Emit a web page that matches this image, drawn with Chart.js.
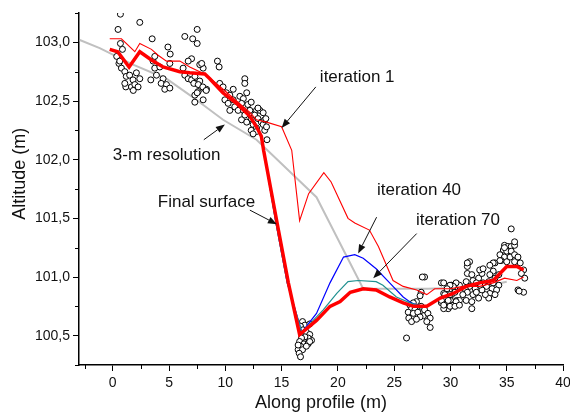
<!DOCTYPE html>
<html>
<head>
<meta charset="utf-8">
<title>Profile</title>
<script src="https://cdn.jsdelivr.net/npm/chart.js@4/dist/chart.umd.min.js"></script>
<style>
  html, body { margin: 0; padding: 0; background: #fff; }
  canvas { display: block; }
</style>
</head>
<body>
<canvas id="profileChart" width="570" height="413"></canvas>
<script>
// -----------------------------------------
// Daten
// -----------------------------------------
const xTicks = [0, 5, 10, 15, 20, 25, 30, 35, 40];
const xMinorTicks = [-2.5, 2.5, 7.5, 12.5, 17.5, 22.5, 27.5, 32.5, 37.5];
const yTicks = [100.5, 101.0, 101.5, 102.0, 102.5, 103.0];
const yMinorTicks = [100.25, 100.75, 101.25, 101.75, 102.25, 102.75, 103.25];

// Messpunkte [Abstand, Hoehe]
const measured = [
    [0.68, 103.24], [0.47, 103.11], [2.4, 103.17], [3.5, 103.03], [4.9, 102.96], [5.1, 102.90],
    [6.4, 103.05], [7.1, 103.03], [7.5, 103.11], [7.5, 102.99],
    [0.68, 102.99], [0.86, 102.94], [0.35, 102.88], [0.55, 102.82], [0.62, 102.84], [0.77, 102.78],
    [1.07, 102.75], [1.2, 102.71], [1.5, 102.72], [1.8, 102.68], [1.16, 102.62], [1.66, 102.62],
    [1.96, 102.64], [2.1, 102.74], [2.4, 102.69], [1.07, 102.65], [1.82, 102.59], [2.25, 102.62],
    [3.58, 102.84], [3.73, 102.78], [4.18, 102.79], [3.88, 102.72], [4.47, 102.69], [4.3, 102.65],
    [4.77, 102.64], [4.62, 102.60], [5.07, 102.61], [3.38, 102.68], [3.73, 102.88], [5.07, 102.82],
    [6.25, 102.78], [6.4, 102.72], [6.7, 102.69], [7.0, 102.68], [7.3, 102.71], [7.44, 102.65],
    [7.73, 102.67], [7.88, 102.61], [7.58, 102.58], [8.03, 102.78], [7.73, 102.81], [7.0, 102.86],
    [6.7, 102.84], [8.03, 102.51], [8.33, 102.60], [9.3, 102.84], [9.45, 102.79], [7.29, 102.55],
    [7.29, 102.49], [7.9, 102.82], [7.2, 102.65], [7.6, 102.64], [8.0, 102.62], [8.3, 102.59],
    [7.5, 102.57],
    [11.73, 102.69], [11.73, 102.65], [9.5, 102.65], [9.8, 102.62], [10.1, 102.57], [10.4, 102.55],
    [9.96, 102.51], [10.25, 102.48], [10.7, 102.51], [10.84, 102.45], [10.4, 102.42], [11.29, 102.54],
    [11.6, 102.52], [11.9, 102.57], [11.44, 102.48], [11.14, 102.42], [11.6, 102.42], [12.0, 102.47],
    [12.18, 102.42], [11.73, 102.38], [11.44, 102.34], [11.9, 102.32], [12.3, 102.35], [12.77, 102.42],
    [13.07, 102.42], [12.6, 102.38], [12.9, 102.35], [13.2, 102.32], [13.36, 102.30], [12.47, 102.30],
    [12.77, 102.27], [12.3, 102.25], [13.5, 102.25], [13.66, 102.28], [13.7, 102.17], [12.3, 102.49],
    [10.7, 102.60], [12.9, 102.44], [13.36, 102.40], [13.5, 102.34], [12.77, 102.24], [12.47, 102.22],
    [13.6, 102.35],
    [16.86, 100.62], [17.07, 100.59], [16.68, 100.58], [16.9, 100.55], [17.2, 100.53], [17.5, 100.51],
    [17.66, 100.46], [17.36, 100.48], [17.07, 100.49], [16.77, 100.48], [16.6, 100.45], [16.98, 100.43],
    [17.36, 100.43], [16.68, 100.41], [16.47, 100.38], [16.86, 100.38], [16.56, 100.35], [16.68, 100.32],
    [16.47, 100.42], [17.5, 100.45], [17.2, 100.41], [17.5, 100.60],
    [27.7, 101.0], [27.5, 101.0], [29.2, 100.95], [27.4, 100.87], [27.3, 100.84], [26.98, 100.79],
    [26.7, 100.78], [26.4, 100.76], [26.55, 100.73], [26.84, 100.72], [26.25, 100.70], [26.7, 100.69],
    [27.1, 100.70], [27.4, 100.75], [27.7, 100.72], [27.6, 100.67], [27.3, 100.66], [28.0, 100.69],
    [28.2, 100.65], [27.9, 100.62], [26.3, 100.65], [26.55, 100.62], [28.2, 100.57], [26.1, 100.48],
    [26.98, 100.64],
    [29.4, 100.86], [29.5, 100.82], [29.2, 100.78], [29.7, 100.78], [30.0, 100.80], [30.1, 100.85],
    [30.25, 100.76], [30.55, 100.80], [29.8, 100.73], [29.4, 100.73], [30.4, 100.89], [30.1, 100.93],
    [35.4, 101.41], [34.8, 101.27], [35.1, 101.26], [35.4, 101.26], [35.7, 101.27], [34.7, 101.23],
    [35.0, 101.22], [35.4, 101.22], [34.4, 101.19], [34.8, 101.17], [35.3, 101.17], [35.7, 101.19],
    [36.0, 101.17], [34.5, 101.14], [35.0, 101.13], [35.7, 101.13], [36.2, 101.12], [33.96, 101.12],
    [36.5, 101.06], [36.3, 101.03], [36.6, 100.99], [36.0, 100.89], [36.5, 100.87], [33.8, 101.05],
    [33.5, 101.02], [33.96, 100.99], [34.3, 101.02], [33.4, 100.96], [33.8, 100.95], [34.3, 100.93],
    [33.2, 100.92], [33.7, 100.90], [34.1, 100.89], [33.5, 100.86], [33.96, 100.85], [33.4, 100.82],
    [33.1, 100.85], [32.8, 100.89], [32.9, 100.95], [32.6, 100.93], [32.5, 100.99], [32.8, 101.03],
    [32.6, 101.06], [32.9, 101.07], [31.7, 101.13], [31.5, 101.09], [31.5, 101.03], [31.9, 101.02],
    [32.0, 100.97], [32.3, 100.95], [31.4, 100.96], [31.7, 100.92], [32.2, 100.90], [31.3, 100.90],
    [31.5, 100.87], [32.0, 100.85], [31.1, 100.85], [31.4, 100.80], [31.9, 100.79], [30.8, 100.80],
    [31.9, 100.73], [30.8, 100.93], [30.5, 100.95], [30.25, 100.92], [29.96, 100.93], [29.4, 100.95],
    [29.7, 100.90], [30.4, 100.87], [29.96, 100.85], [29.5, 100.85], [29.2, 100.80], [29.4, 100.76],
    [29.8, 100.80], [29.96, 100.75], [30.5, 100.79], [30.4, 100.75], [30.8, 100.76], [32.3, 100.87],
    [32.5, 100.82], [33.8, 101.12], [33.5, 101.10], [31.5, 101.12], [34.8, 101.25], [35.7, 101.30],
    [36.1, 100.88], [34.4, 101.14]
];

// 3-m Aufloesung (grau)
const coarse = [
    [-2.93, 103.02], [-1.16, 102.95], [1.8, 102.81], [4.77, 102.69], [7.0, 102.54], [9.8, 102.34],
    [12.77, 102.17], [18.1, 101.68], [22.25, 100.90], [28.0, 100.90], [33.0, 100.92], [35.0, 100.96]
];

// Iteration 1 (duenn rot)
const iter1 = [
    [-0.27, 103.03], [0.77, 103.03], [1.96, 102.92], [2.4, 102.99], [3.44, 102.94], [4.03, 102.89],
    [4.77, 102.84], [5.96, 102.84], [6.84, 102.79], [7.73, 102.75], [8.47, 102.71], [9.8, 102.60],
    [11.0, 102.50], [12.2, 102.40], [12.77, 102.34], [13.66, 102.32], [15.0, 102.28], [15.9, 102.08],
    [16.6, 101.48], [17.4, 101.71], [18.75, 101.89], [19.4, 101.81], [20.9, 101.50], [21.5, 101.46],
    [22.8, 101.40], [23.6, 101.26], [24.9, 100.97], [25.8, 100.92], [27.0, 100.89], [27.9, 100.85],
    [28.6, 100.90], [30.0, 100.90], [31.1, 100.92], [32.6, 100.92], [33.8, 100.95], [34.8, 100.99],
    [35.9, 100.97], [36.5, 101.0]
];

// Iteration 40 (blau)
const iter40 = [
    [8.62, 102.69], [9.78, 102.57], [11.0, 102.48], [12.18, 102.37], [12.77, 102.28], [13.2, 102.20],
    [13.4, 102.08], [14.5, 101.46], [15.5, 100.95], [16.8, 100.53], [18.1, 100.69], [19.3, 100.95],
    [20.5, 101.17], [21.5, 101.19], [22.25, 101.16], [23.4, 101.07], [24.6, 100.95], [25.8, 100.83],
    [26.5, 100.78], [27.4, 100.75]
];

// Iteration 70 (tuerkis)
const iter70 = [
    [8.62, 102.69], [9.78, 102.57], [11.0, 102.48], [12.18, 102.37], [12.77, 102.28], [13.2, 102.20],
    [13.4, 102.08], [14.5, 101.46], [15.5, 100.95], [16.8, 100.53], [18.7, 100.72], [19.9, 100.86],
    [20.9, 100.96], [21.8, 100.97], [23.4, 100.96], [24.0, 100.93], [25.2, 100.83], [26.4, 100.78],
    [27.4, 100.75]
];

// Endgueltige Oberflaeche (dick rot)
const finalSurface = [
    [-0.27, 102.94], [0.44, 102.92], [1.45, 102.79], [2.4, 102.92], [3.44, 102.85], [4.47, 102.79],
    [5.96, 102.75], [6.84, 102.74], [8.18, 102.73], [8.62, 102.69], [9.78, 102.57], [11.0, 102.48],
    [12.18, 102.37], [12.77, 102.28], [13.2, 102.20], [13.4, 102.08], [14.6, 101.46], [15.6, 100.95],
    [16.6, 100.51], [18.1, 100.63], [19.3, 100.75], [20.2, 100.79], [21.1, 100.87], [22.25, 100.90],
    [23.4, 100.89], [24.6, 100.83], [25.8, 100.78], [26.7, 100.75], [27.9, 100.75], [29.1, 100.82],
    [30.25, 100.86], [31.4, 100.92], [32.6, 100.95], [33.8, 100.97], [35.0, 101.09], [35.9, 101.09],
    [36.5, 101.06]
];

// Beschriftungen mit Pfeil (Datenkoordinaten)
const notes = [
    { text: "iteration 1", at: [18.4, 102.70], from: [18.04, 102.62], to: [15.0, 102.27] },
    { text: "3-m resolution", at: [0.0, 102.04], from: [8.09, 102.17], to: [9.96, 102.30] },
    { text: "Final surface", at: [4.0, 101.64], from: [12.18, 101.57], to: [14.58, 101.45] },
    { text: "iteration 40", at: [23.47, 101.74], from: [23.44, 101.51], to: [21.8, 101.20] },
    { text: "iteration 70", at: [26.93, 101.48], from: [27.0, 101.37], to: [23.14, 100.99] }
];

const FONT = "'Liberation Sans', Arial, sans-serif";

function toXY(pairs) {
    return pairs.map(p => ({ x: p[0], y: p[1] }));
}

function lineSet(label, pairs, color, width, order) {
    return {
        label: label,
        data: toXY(pairs),
        showLine: true,
        borderColor: color,
        backgroundColor: color,
        borderWidth: width,
        pointRadius: 0,
        tension: 0,
        order: order
    };
}


// -----------------------------------------
// Plugins: Nebenstriche, Titel, Pfeile
// -----------------------------------------
const minorTicksPlugin = {
    id: "minorTicks",
    afterDraw(chart) {
        const { ctx, chartArea, scales } = chart;
        ctx.save();
        ctx.strokeStyle = "#000";
        ctx.lineWidth = 1;
        ctx.beginPath();
        xMinorTicks.forEach(v => {
            const px = Math.round(scales.x.getPixelForValue(v)) + 0.5;
            ctx.moveTo(px, chartArea.bottom);
            ctx.lineTo(px, chartArea.bottom + 4);
        });
        yMinorTicks.forEach(v => {
            const py = Math.round(scales.y.getPixelForValue(v)) + 0.5;
            ctx.moveTo(chartArea.left, py);
            ctx.lineTo(chartArea.left - 4, py);
        });
        ctx.stroke();
        ctx.restore();
    }
};

const yTitlePlugin = {
    id: "yTitle",
    afterDraw(chart) {
        const { ctx, scales } = chart;
        ctx.save();
        ctx.translate(20, scales.y.getPixelForValue(101.88));
        ctx.rotate(-Math.PI / 2);
        ctx.font = "18px " + FONT;
        ctx.fillStyle = "#111";
        ctx.textAlign = "center";
        ctx.textBaseline = "middle";
        ctx.fillText("Altitude (m)", 0, 0);
        ctx.restore();
    }
};

const notesPlugin = {
    id: "notes",
    afterDatasetsDraw(chart) {
        const { ctx, scales } = chart;
        const px = v => scales.x.getPixelForValue(v);
        const py = v => scales.y.getPixelForValue(v);
        ctx.save();
        ctx.font = "17px " + FONT;
        ctx.fillStyle = "#111";
        ctx.strokeStyle = "#111";
        ctx.lineWidth = 1;
        ctx.textAlign = "left";
        ctx.textBaseline = "middle";
        notes.forEach(n => {
            ctx.fillText(n.text, px(n.at[0]), py(n.at[1]));

            const x1 = px(n.from[0]), y1 = py(n.from[1]);
            const x2 = px(n.to[0]), y2 = py(n.to[1]);
            const a = Math.atan2(y2 - y1, x2 - x1);
            const len = 9, half = 3.5;
            const bx = x2 - len * Math.cos(a), by = y2 - len * Math.sin(a);

            ctx.beginPath();
            ctx.moveTo(x1, y1);
            ctx.lineTo(bx, by);
            ctx.stroke();

            ctx.beginPath();
            ctx.moveTo(x2, y2);
            ctx.lineTo(bx + half * Math.sin(a), by - half * Math.cos(a));
            ctx.lineTo(bx - half * Math.sin(a), by + half * Math.cos(a));
            ctx.closePath();
            ctx.fill();
        });
        ctx.restore();
    }
};


// -----------------------------------------
// Diagramm
// -----------------------------------------
function initChart() {
    const ctx = document.getElementById("profileChart").getContext("2d");

    new Chart(ctx, {
        type: "scatter",
        data: {
            datasets: [
                lineSet("Final surface", finalSurface, "#ff0000", 3.5, 1),
                lineSet("iteration 70", iter70, "#1f9090", 1.2, 2),
                lineSet("iteration 40", iter40, "#0000ff", 1.2, 3),
                lineSet("iteration 1", iter1, "#ff0000", 1.1, 4),
                {
                    label: "measured",
                    data: toXY(measured),
                    pointRadius: 3,
                    pointBorderWidth: 1,
                    pointBorderColor: "#000",
                    pointBackgroundColor: "#fff",
                    showLine: false,
                    order: 5
                },
                lineSet("3-m resolution", coarse, "#c0c0c0", 2, 6)
            ]
        },
        options: {
            responsive: false,
            animation: false,
            devicePixelRatio: 1,
            layout: { padding: { top: 13, right: 7, left: 0, bottom: 0 } },
            plugins: {
                legend: { display: false },
                tooltip: { enabled: false }
            },
            scales: {
                x: {
                    type: "linear",
                    min: -3,
                    max: 40,
                    afterBuildTicks: s => { s.ticks = xTicks.map(v => ({ value: v })); },
                    afterFit: s => {
                        s.height = 48;
                        s.paddingLeft = 0;
                        s.paddingRight = 0;
                    },
                    ticks: {
                        autoSkip: false,
                        maxRotation: 0,
                        padding: 4,
                        color: "#111",
                        font: { family: FONT, size: 14 },
                        callback: v => String(v)
                    },
                    grid: {
                        drawOnChartArea: false,
                        drawTicks: true,
                        tickLength: 6,
                        tickColor: "#000",
                        tickWidth: 1
                    },
                    border: { color: "#000", width: 1.5 },
                    title: {
                        display: true,
                        text: "Along profile (m)",
                        color: "#111",
                        font: { family: FONT, size: 18, lineHeight: 1 },
                        padding: { top: 0, bottom: 1 }
                    }
                },
                y: {
                    type: "linear",
                    min: 100.25,
                    max: 103.25,
                    afterBuildTicks: s => { s.ticks = yTicks.map(v => ({ value: v })); },
                    afterFit: s => {
                        s.width = 79;
                        s.paddingTop = 0;
                        s.paddingBottom = 0;
                    },
                    ticks: {
                        padding: 3,
                        color: "#111",
                        font: { family: FONT, size: 14 },
                        callback: v => v.toFixed(1).replace(".", ",")
                    },
                    grid: {
                        drawOnChartArea: false,
                        drawTicks: true,
                        tickLength: 6,
                        tickColor: "#000",
                        tickWidth: 1
                    },
                    border: { color: "#000", width: 1.5 }
                }
            }
        },
        plugins: [minorTicksPlugin, yTitlePlugin, notesPlugin]
    });
}

window.addEventListener("DOMContentLoaded", () => {
    initChart();
});
</script>
</body>
</html>
